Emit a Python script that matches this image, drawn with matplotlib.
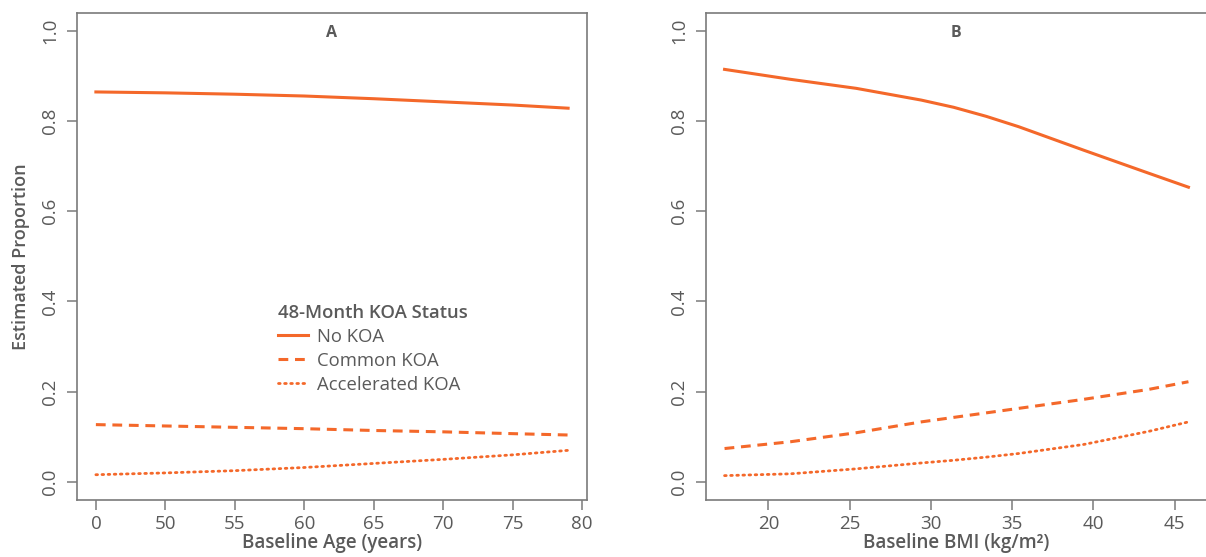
import matplotlib
matplotlib.use('Agg')
import matplotlib.pyplot as plt
from matplotlib.lines import Line2D

# Panel A: estimated proportion by baseline age
age = [45, 50, 55, 60, 65, 70, 75, 79]
age_no = [0.864, 0.862, 0.859, 0.855, 0.849, 0.842, 0.835, 0.828]
age_common = [0.127, 0.124, 0.121, 0.118, 0.114, 0.111, 0.107, 0.104]
age_accel = [0.016, 0.020, 0.025, 0.032, 0.041, 0.050, 0.060, 0.070]
age_ticks = [45, 50, 55, 60, 65, 70, 75, 80]
age_ticklabels = ['0', '50', '55', '60', '65', '70', '75', '80']

# Panel B: estimated proportion by baseline BMI
bmi = [17.3, 21.35, 25.4, 29.4, 31.4, 33.4, 35.4, 39.4, 43.4, 45.85]
bmi_no = [0.914, 0.892, 0.872, 0.846, 0.830, 0.810, 0.787, 0.735, 0.684, 0.653]
bmi_common = [0.074, 0.089, 0.109, 0.133, 0.143, 0.153, 0.163, 0.183, 0.205, 0.222]
bmi_accel = [0.014, 0.018, 0.029, 0.042, 0.048, 0.055, 0.063, 0.083, 0.112, 0.133]
bmi_ticks = [20, 25, 30, 35, 40, 45]

y_ticks = [0.0, 0.2, 0.4, 0.6, 0.8, 1.0]
series_names = ['No KOA', 'Common KOA', 'Accelerated KOA']

ORANGE = '#F4682A'
TXT = '#5a5a5a'
AX = '#7a7a7a'
plt.rcParams['font.family'] = ['Open Sans', 'DejaVu Sans']

W, H = 1206, 557
fig = plt.figure(figsize=(W / 100, H / 100), dpi=100)
axA = fig.add_axes([77 / W, (H - 500) / H, 510 / W, 487.5 / H])
axB = fig.add_axes([706 / W, (H - 500) / H, 501 / W, 487.5 / H])

STYLES = [dict(ls='-', lw=2.2),
          dict(ls=(0, (3.2, 2.2)), lw=2.2),
          dict(ls=(0, (0.6, 1.6)), lw=2.0, dash_capstyle='round')]


def style_axes(ax, xs, xticks, xlabels, xlabel, letter):
    lo, hi = min(xs), max(xs)
    pad = 0.04 * (hi - lo)
    ax.set_xlim(lo - pad, hi + pad)
    ax.set_ylim(-0.04, 1.04)
    ax.set_xticks(xticks)
    ax.set_xticklabels(xlabels)
    ax.set_yticks(y_ticks)
    ax.set_yticklabels([f'{v:.1f}' for v in y_ticks], rotation=90, va='center')
    ax.tick_params(axis='both', direction='out', length=7, width=1.1, color=AX,
                   labelcolor=TXT, labelsize=13.5)
    ax.tick_params(axis='x', pad=4)
    ax.tick_params(axis='y', pad=6)
    for s in ax.spines.values():
        s.set_color(AX)
        s.set_linewidth(1.2)
    ax.set_xlabel(xlabel, fontsize=13.5, color=TXT, fontweight='semibold', labelpad=0)
    # panel letter sits on the 1.0 line, centred
    ax.text(0.5, 1.0, letter, transform=ax.get_yaxis_transform(), ha='center',
            va='center_baseline', fontsize=11.5, fontweight='bold', color=TXT)


for ys, st in zip([age_no, age_common, age_accel], STYLES):
    axA.plot(age, ys, color=ORANGE, **st)
for ys, st in zip([bmi_no, bmi_common, bmi_accel], STYLES):
    axB.plot(bmi, ys, color=ORANGE, **st)

style_axes(axA, age, age_ticks, age_ticklabels, 'Baseline Age (years)', 'A')
style_axes(axB, bmi, bmi_ticks, [str(t) for t in bmi_ticks],
           'Baseline BMI (kg/m²)', 'B')
axA.set_ylabel('Estimated Proportion', fontsize=13, color=TXT,
               fontweight='semibold', labelpad=8)

handles = [Line2D([], [], color=ORANGE, **st) for st in STYLES]
leg = axA.legend(handles, series_names, title='48-Month KOA Status',
                 loc='upper left', bbox_to_anchor=(0.38, 0.418), frameon=False,
                 fontsize=13.3, title_fontsize=13.3, handlelength=1.6,
                 handletextpad=0.5, labelspacing=0.33, borderaxespad=0)
leg._legend_box.align = 'left'
leg.get_title().set_color(TXT)
leg.get_title().set_fontweight('semibold')
for t in leg.get_texts():
    t.set_color(TXT)

fig.savefig('out.png', dpi=100, facecolor='white')
